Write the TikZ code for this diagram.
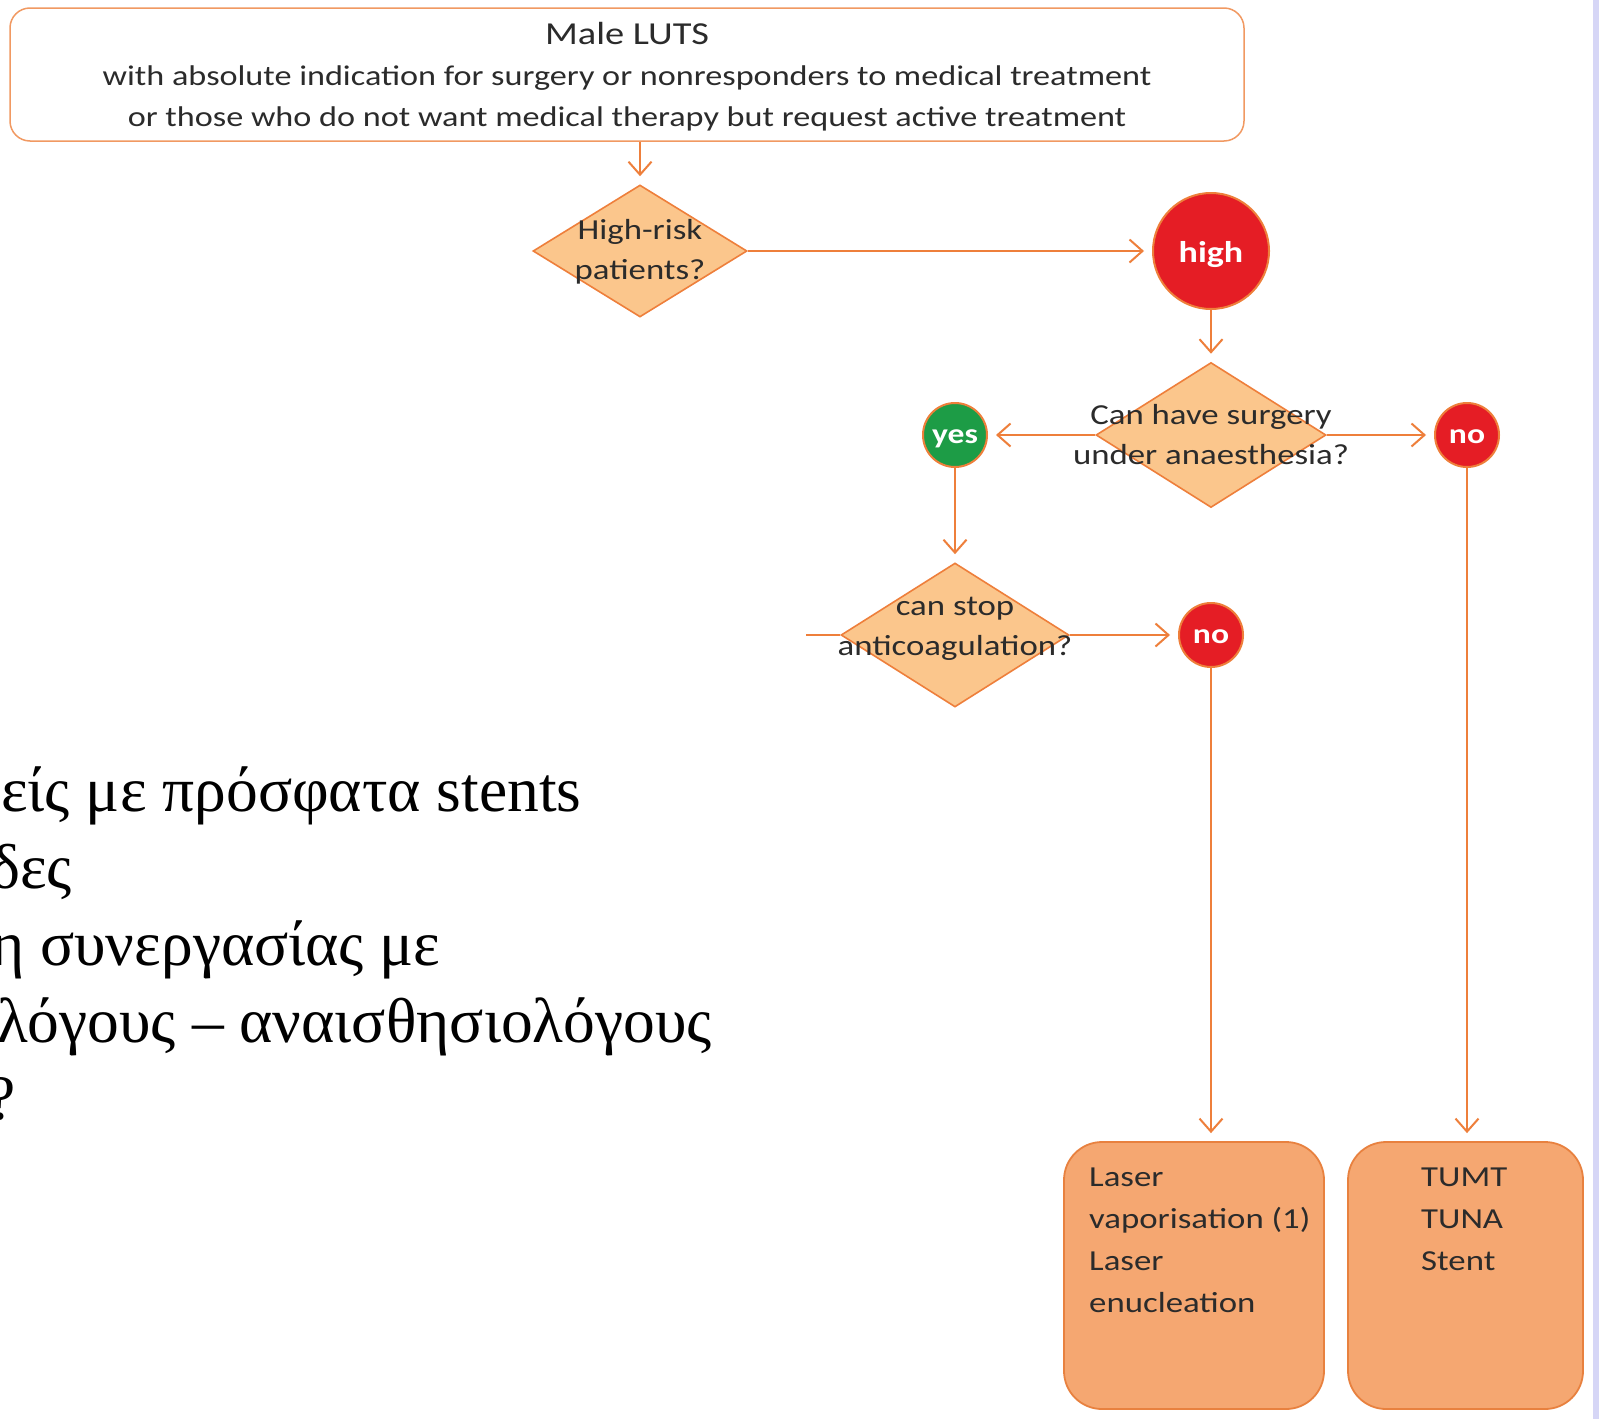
\documentclass[tikz,border=0pt]{standalone}
\usepackage{fontspec}
\setmainfont{Carlito}[FakeStretch=1.2]
\newfontfamily\greekserif{Liberation Serif}
\usetikzlibrary{shapes.geometric,arrows.meta,calc}

\definecolor{lineorange}{HTML}{EE7F3B}
\definecolor{diafill}{HTML}{FBC68C}
\definecolor{hotred}{HTML}{E51D25}
\definecolor{okgreen}{HTML}{1D9C46}
\definecolor{boxfill}{HTML}{F5A771}
\definecolor{boxedge}{HTML}{E8813F}
\definecolor{inkgray}{HTML}{2B2B2B}
\definecolor{edgestrip}{HTML}{D6D6F6}

\tikzset{
  flow/.style={draw=lineorange, line width=2pt,
    -{Straight Barb[length=13pt,width=23pt]}, shorten >=8pt},
  plainline/.style={draw=lineorange, line width=2pt},
  decision/.style={diamond, draw=lineorange, fill=diafill, line width=1.6pt, inner sep=0pt},
  dtext/.style={font=\fontsize{29}{40}\selectfont, text=inkgray, align=center},
  badge/.style={circle, draw=lineorange, line width=2pt, minimum size=64pt, inner sep=0pt,
    text=white, font=\bfseries\fontsize{28}{30}\selectfont, text height=16pt, text depth=0pt},
  outcome/.style={draw=boxedge, fill=boxfill, line width=1.8pt, rounded corners=38pt},
  outtext/.style={font=\fontsize{29}{42}\selectfont, text=inkgray, align=left, anchor=north west, inner sep=0pt},
  greekline/.style={font=\greekserif\fontsize{63.5}{77}\selectfont, text=black, anchor=base west, inner sep=0pt}
}

\begin{document}
\begin{tikzpicture}[x=1pt,y=-1pt]
  \useasboundingbox (0,0) rectangle (1599,1419);
  \fill[white] (0,0) rectangle (1599,1419);
  \fill[edgestrip] (1593,0) rectangle (1599,1419);

  % entry box
  \node[draw=lineorange!80, line width=1.5pt, rounded corners=20pt, fill=white,
        minimum width=1234pt, minimum height=133pt] (start) at (627,74.5) {};
  \node[text=inkgray, align=center, font=\fontsize{28.5}{41}\selectfont] (starttext) at (627,77)
    {{\fontsize{32}{41}\selectfont Male LUTS}\\
     with absolute indication for surgery or nonresponders to medical treatment\\
     or those who do not want medical therapy but request active treatment};

  % decisions
  \node[decision, minimum width=214pt, minimum height=132pt] (risk) at (640,251) {};
  \node[dtext] (risktext) at (640,252) {High-risk\\patients?};

  \node[decision, minimum width=230pt, minimum height=145pt] (surg) at (1211,435) {};
  \node[dtext] (surgtext) at (1211,435) {Can have surgery\\under anaesthesia?};

  \node[decision, minimum width=228pt, minimum height=144pt] (anti) at (955,635) {};
  \node[dtext] (antitext) at (955,629) {can stop\\anticoagulation?};

  % answer badges
  \node[badge, fill=hotred, minimum size=116pt, font=\bfseries\fontsize{30}{32}\selectfont,
        text height=22pt] (high) at (1211,251) {high};
  \node[badge, fill=okgreen] (yes) at (955,435) {yes};
  \node[badge, fill=hotred] (noA) at (1467,435) {no};
  \node[badge, fill=hotred] (noB) at (1211,635) {no};

  % treatment boxes
  \node[outcome, minimum width=260pt, minimum height=267pt] (laser) at (1194,1275.5) {};
  \node[outtext] (lasertext) at (1089,1168)
    {Laser\\vaporisation (1)\\Laser\\enucleation};
  \node[outcome, minimum width=235pt, minimum height=267pt] (mini) at (1465.5,1275.5) {};
  \node[outtext] (minitext) at (1421,1168) {TUMT\\TUNA\\Stent};

  % connectors
  \coordinate (feed) at (806,635);
  \draw[flow] (start.south -| risk.north) -- (risk.north);
  \draw[flow] (risk.east) -- (high.west);
  \draw[flow] (high.south) -- (surg.north);
  \draw[flow] (surg.west) -- (yes.east);
  \draw[flow] (surg.east) -- (noA.west);
  \draw[flow] (yes.south) -- (anti.north);
  \draw[plainline] (feed) -- (anti.west);
  \draw[flow] (anti.east) -- (noB.west);
  \draw[flow] (noB.south) -- (noB.south |- laser.north);
  \draw[flow] (noA.south) -- (noA.south |- mini.north);

  % notes on the left, running off the edge
  \begin{scope}
    \clip (0,0) rectangle (800,1419);
    \node[greekline] (g1) at (1,811) {είς με πρόσφατα stents};
    \node[greekline] (g2) at (-10,888) {δες};
    \node[greekline] (g3) at (-9,965) {η συνεργασίας με};
    \node[greekline] (g4) at (-3,1042) {λόγους – αναισθησιολόγους};
    \node[greekline] (g5) at (-13,1119) {?};
  \end{scope}
\end{tikzpicture}
\end{document}
